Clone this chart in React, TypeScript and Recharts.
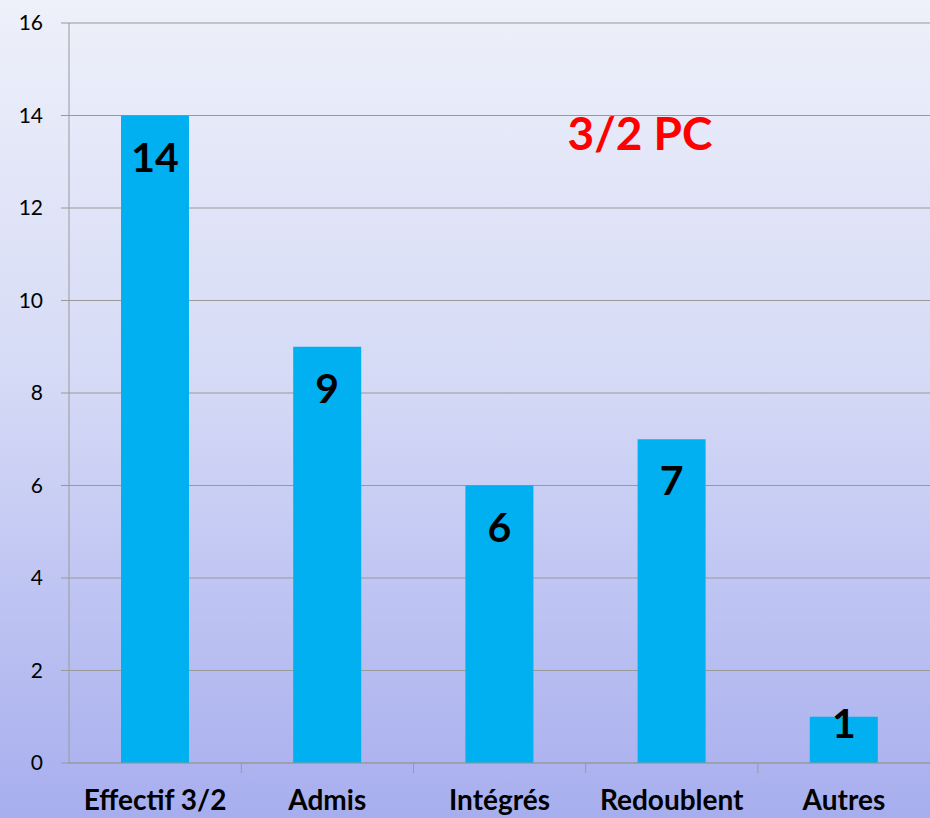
import { Bar, BarChart, CartesianGrid, LabelList, XAxis, YAxis } from "recharts";

const categories = ["Effectif 3/2", "Admis", "Intégrés", "Redoublent", "Autres"];
const values = [14, 9, 6, 7, 1];
const yTicks = [0, 2, 4, 6, 8, 10, 12, 14, 16];
const title = "3/2 PC";

const data = categories.map((name, i) => ({ name, value: values[i] }));

const FONT = "Lato, 'Open Sans', sans-serif";

const CategoryTick = (props: any) => {
  const { x, y, payload, index } = props;
  const half = 86;
  return (
    <g>
      {index > 0 && (
        <line x1={x - half} x2={x - half} y1={y - 8} y2={y + 2} stroke="#999" strokeWidth={1} />
      )}
      <text
        x={x}
        y={y + 39}
        textAnchor="middle"
        fontFamily={FONT}
        fontWeight={700}
        fontSize={28}
        fill="#000"
      >
        {payload.value}
      </text>
    </g>
  );
};

const ValueLabel = (props: any) => {
  const { x, y, width, height, value } = props;
  const cy = height > 80 ? y + 42 : y + 7;
  return (
    <text
      x={x + width / 2}
      y={cy}
      dy={14}
      textAnchor="middle"
      fontFamily={FONT}
      fontWeight={700}
      fontSize={41}
      fill="#000"
    >
      {value}
    </text>
  );
};

export default function App() {
  return (
    <div
      style={{
        position: "absolute",
        left: 0,
        top: 0,
        width: 930,
        height: 818,
        background: "linear-gradient(to bottom, #eef0fa 0%, #d6dbf6 45%, #a7aeee 100%)",
        overflow: "hidden",
      }}
    >
      <BarChart
        width={930}
        height={818}
        data={data}
        margin={{ top: 23, right: 0, left: 0, bottom: 0 }}
        barCategoryGap={0}
      >
        <CartesianGrid vertical={false} stroke="#999" strokeWidth={1} />
        <XAxis
          dataKey="name"
          height={55}
          axisLine={{ stroke: "#999" }}
          tickLine={false}
          tick={<CategoryTick />}
          interval={0}
        />
        <YAxis
          width={69}
          domain={[0, 16]}
          ticks={yTicks}
          interval={0}
          axisLine={{ stroke: "#999" }}
          tickLine={{ stroke: "#999" }}
          tickSize={8}
          tickMargin={18}
          tick={{ fontFamily: FONT, fontSize: 21, fill: "#000" }}
        />
        <Bar dataKey="value" fill="#00b0f0" barSize={68} isAnimationActive={false}>
          <LabelList dataKey="value" content={<ValueLabel />} />
        </Bar>
      </BarChart>
      <div
        style={{
          position: "absolute",
          left: 540,
          top: 105,
          width: 200,
          textAlign: "center",
          fontFamily: FONT,
          fontWeight: 700,
          fontSize: 46,
          color: "#ff0000",
        }}
      >
        {title}
      </div>
    </div>
  );
}
